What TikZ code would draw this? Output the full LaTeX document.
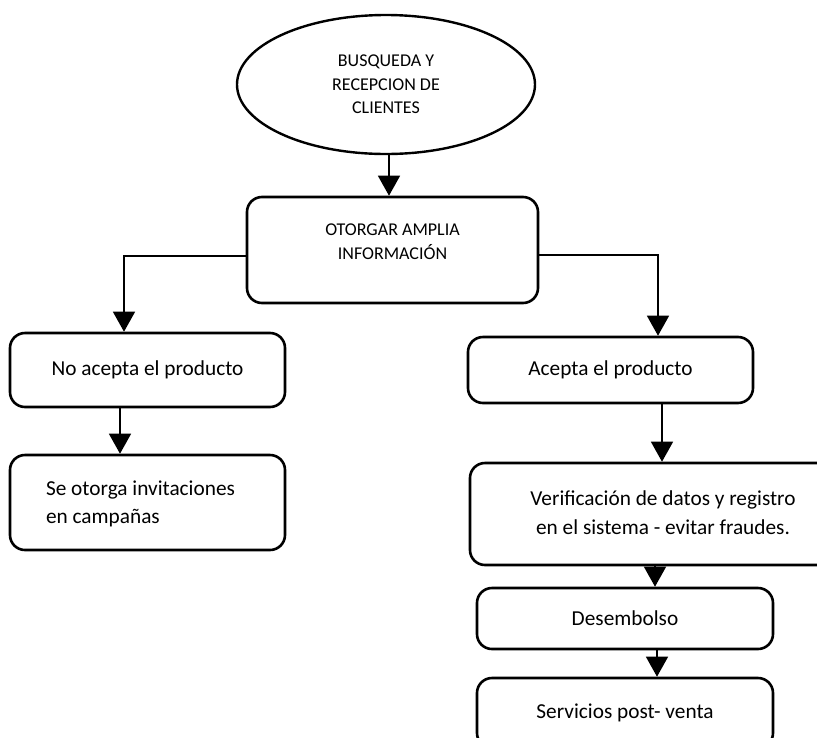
\documentclass[tikz,border=0pt]{standalone}
\usepackage{fontspec}
\setmainfont{Carlito}
\usetikzlibrary{shapes.geometric,arrows.meta,calc}
\begin{document}
\begin{tikzpicture}[x=1pt,y=-1pt,
  box/.style={draw, line width=2.6pt, rounded corners=15pt, inner sep=0pt,
    font=\fontsize{21.3}{28.5}\selectfont, align=center},
  capsfont/.style={font=\fontsize{18}{23.5}\selectfont, align=center},
  arr/.style={line width=1.4pt, -{Triangle[length=20pt,width=22pt]}}]
\clip (0,0) rectangle (817,737);
\fill[white] (0,0) rectangle (817,737);
% nodes
\node[ellipse, draw, line width=2.4pt, minimum width=298pt, minimum height=139pt,
  inner sep=0pt, capsfont] (ell) at (386,84.5) {BUSQUEDA Y\\RECEPCION DE\\CLIENTES};
\node[box, minimum width=291pt, minimum height=106pt] (otorgar) at (392.5,250) {};
\node[capsfont] (otorgarT) at (392.5,241.5) {OTORGAR AMPLIA\\INFORMACIÓN};
\node[box, minimum width=275pt, minimum height=74pt] (noacepta) at (147.5,370) {No acepta el producto};
\node[box, minimum width=275pt, minimum height=95pt] (seotorga) at (147.5,502.5) {};
\node[font=\fontsize{21.3}{28.5}\selectfont, align=left] (seotorgaT) at (140.5,504) {Se otorga invitaciones\\en campañas};
\node[box, minimum width=285pt, minimum height=66pt] (acepta) at (610.5,370) {Acepta el producto};
\node[box, minimum width=386pt, minimum height=102pt] (verif) at (663,514) {};
\node[font=\fontsize{21.3}{28.5}\selectfont, align=center] (verifT) at (663,512.5) {Verificación de datos y registro\\en el sistema - evitar fraudes.};
\node[box, minimum width=296pt, minimum height=61pt] (desem) at (625,618.5) {Desembolso};
\node[box, minimum width=296pt, minimum height=70pt] (serv) at (625,713) {Servicios post- venta};
% connectors
\draw[arr] ([xshift=3pt]ell.south) -- ([xshift=-3.5pt]otorgar.north);
\draw[arr] ([yshift=-6pt]otorgar.west) -| ([xshift=-23.5pt]noacepta.north);
\draw[arr] ([yshift=-5pt]otorgar.east) -| ([xshift=47.5pt]acepta.north);
\draw[arr] ([xshift=-27.5pt]noacepta.south) -- ([xshift=-27.5pt]seotorga.north);
\draw[arr] ([xshift=51.5pt]acepta.south) -- ([xshift=-1pt]verif.north);
\draw[arr] ([xshift=-8pt]verif.south) -- ([xshift=30pt]desem.north);
\draw[arr] ([xshift=32pt]desem.south) -- ([xshift=32pt]serv.north);
\end{tikzpicture}
\end{document}
